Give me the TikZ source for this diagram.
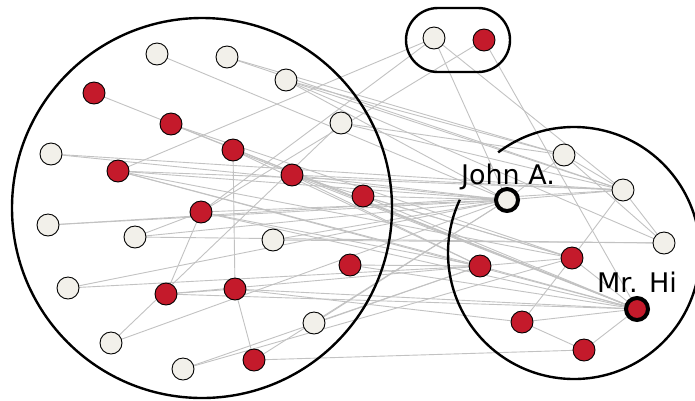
\documentclass[tikz,border=0pt]{standalone}
\usepackage{fontspec}
\setmainfont{DejaVu Sans}
\usetikzlibrary{backgrounds}
\definecolor{facred}{HTML}{C41A2B}
\definecolor{faccream}{HTML}{F2F0EA}
\definecolor{edgegray}{HTML}{C2C2C2}
\begin{document}
\begin{tikzpicture}[x=1pt,y=-1pt,
  member/.style={circle,draw=black,line width=0.9pt,minimum size=22pt,inner sep=0pt},
  hi/.style={member,fill=facred},
  officer/.style={member,fill=faccream},
  leader/.style={line width=4pt},
  link/.style={draw=edgegray,line width=0.9pt},
  group/.style={draw=black,line width=2.4pt},
  tag/.style={font=\fontsize{27}{30}\selectfont,inner sep=0pt,anchor=base}]
\clip (0,0) rectangle (695,400);
\useasboundingbox (0,0) rectangle (695,400);

% group outlines
\draw[group] (202,208) circle[radius=190];
\draw[group,rounded corners=32pt] (406,8) rectangle (510,72);
\draw[group] (574,253) ++(-127:126) arc[start angle=-127,end angle=205,radius=126];

% right group
\node[hi,leader]      (mh) at (637,309) {};
\node[officer,leader] (ja) at (507,200) {};
\node[officer] (wa) at (564,155) {};
\node[officer] (wb) at (623,190) {};
\node[officer] (wc) at (664,243) {};
\node[hi] (ra) at (572,258) {};
\node[hi] (rb) at (480,266) {};
\node[hi] (rc) at (522,322) {};
\node[hi] (rd) at (584,350) {};
% pair
\node[officer] (pw) at (434,38) {};
\node[hi]      (pr) at (484,40) {};
% large group
\node[officer] (a) at (157,54) {};
\node[officer] (b) at (227,57) {};
\node[officer] (c) at (286,80) {};
\node[hi]      (d) at (94,93) {};
\node[hi]      (e) at (171,124) {};
\node[officer] (f) at (341,123) {};
\node[hi]      (g) at (233,150) {};
\node[officer] (h) at (51,154) {};
\node[hi]      (i) at (118,171) {};
\node[hi]      (j) at (292,175) {};
\node[hi]      (k) at (363,196) {};
\node[hi]      (l) at (201,212) {};
\node[officer] (m) at (48,225) {};
\node[officer] (n) at (135,237) {};
\node[officer] (o) at (273,240) {};
\node[hi]      (p) at (350,265) {};
\node[officer] (q) at (68,288) {};
\node[hi]      (r) at (166,294) {};
\node[hi]      (s) at (235,289) {};
\node[officer] (t) at (314,323) {};
\node[officer] (u) at (111,343) {};
\node[hi]      (v) at (254,360) {};
\node[officer] (w) at (183,369) {};

\begin{pgfonlayer}{background}
\foreach \x/\y in {a/ja, b/wb, b/wa, c/wa, c/wb, c/wc, c/ja,
  d/mh, e/mh, e/ra, f/wb, f/wa, f/u, g/s, g/mh, g/rb,
  h/ja, h/wb, i/ja, i/rb, i/ra, i/mh, i/wb,
  j/mh, j/ra, j/rb, j/ja, j/wb, k/mh, k/ra, k/ja,
  l/r, l/mh, l/rb, l/n, l/ja, m/ja, m/wb, n/wc, n/ja,
  o/wc, o/ja, p/mh, p/rb, q/ja, q/rb, r/mh, r/rb, r/s,
  s/v, s/mh, s/rc, t/ja, t/rb, u/ja, v/rd, v/ja, w/ra, w/rb,
  pw/ja, pw/wb, pw/l, pw/i, pr/mh, pr/l,
  ja/wb, ja/wa, wa/wc, wb/ra, ra/mh, ra/rc, rc/rd, rc/mh, rd/mh,
  rb/mh, wb/wc, wa/wb, rb/ra}
  \draw[link] (\x.center) -- (\y.center);
\end{pgfonlayer}

\node[tag] (johnlabel) at (508,184) {John A.};
\node[tag] (hilabel) at (637,292) {Mr. Hi};
\end{tikzpicture}
\end{document}
